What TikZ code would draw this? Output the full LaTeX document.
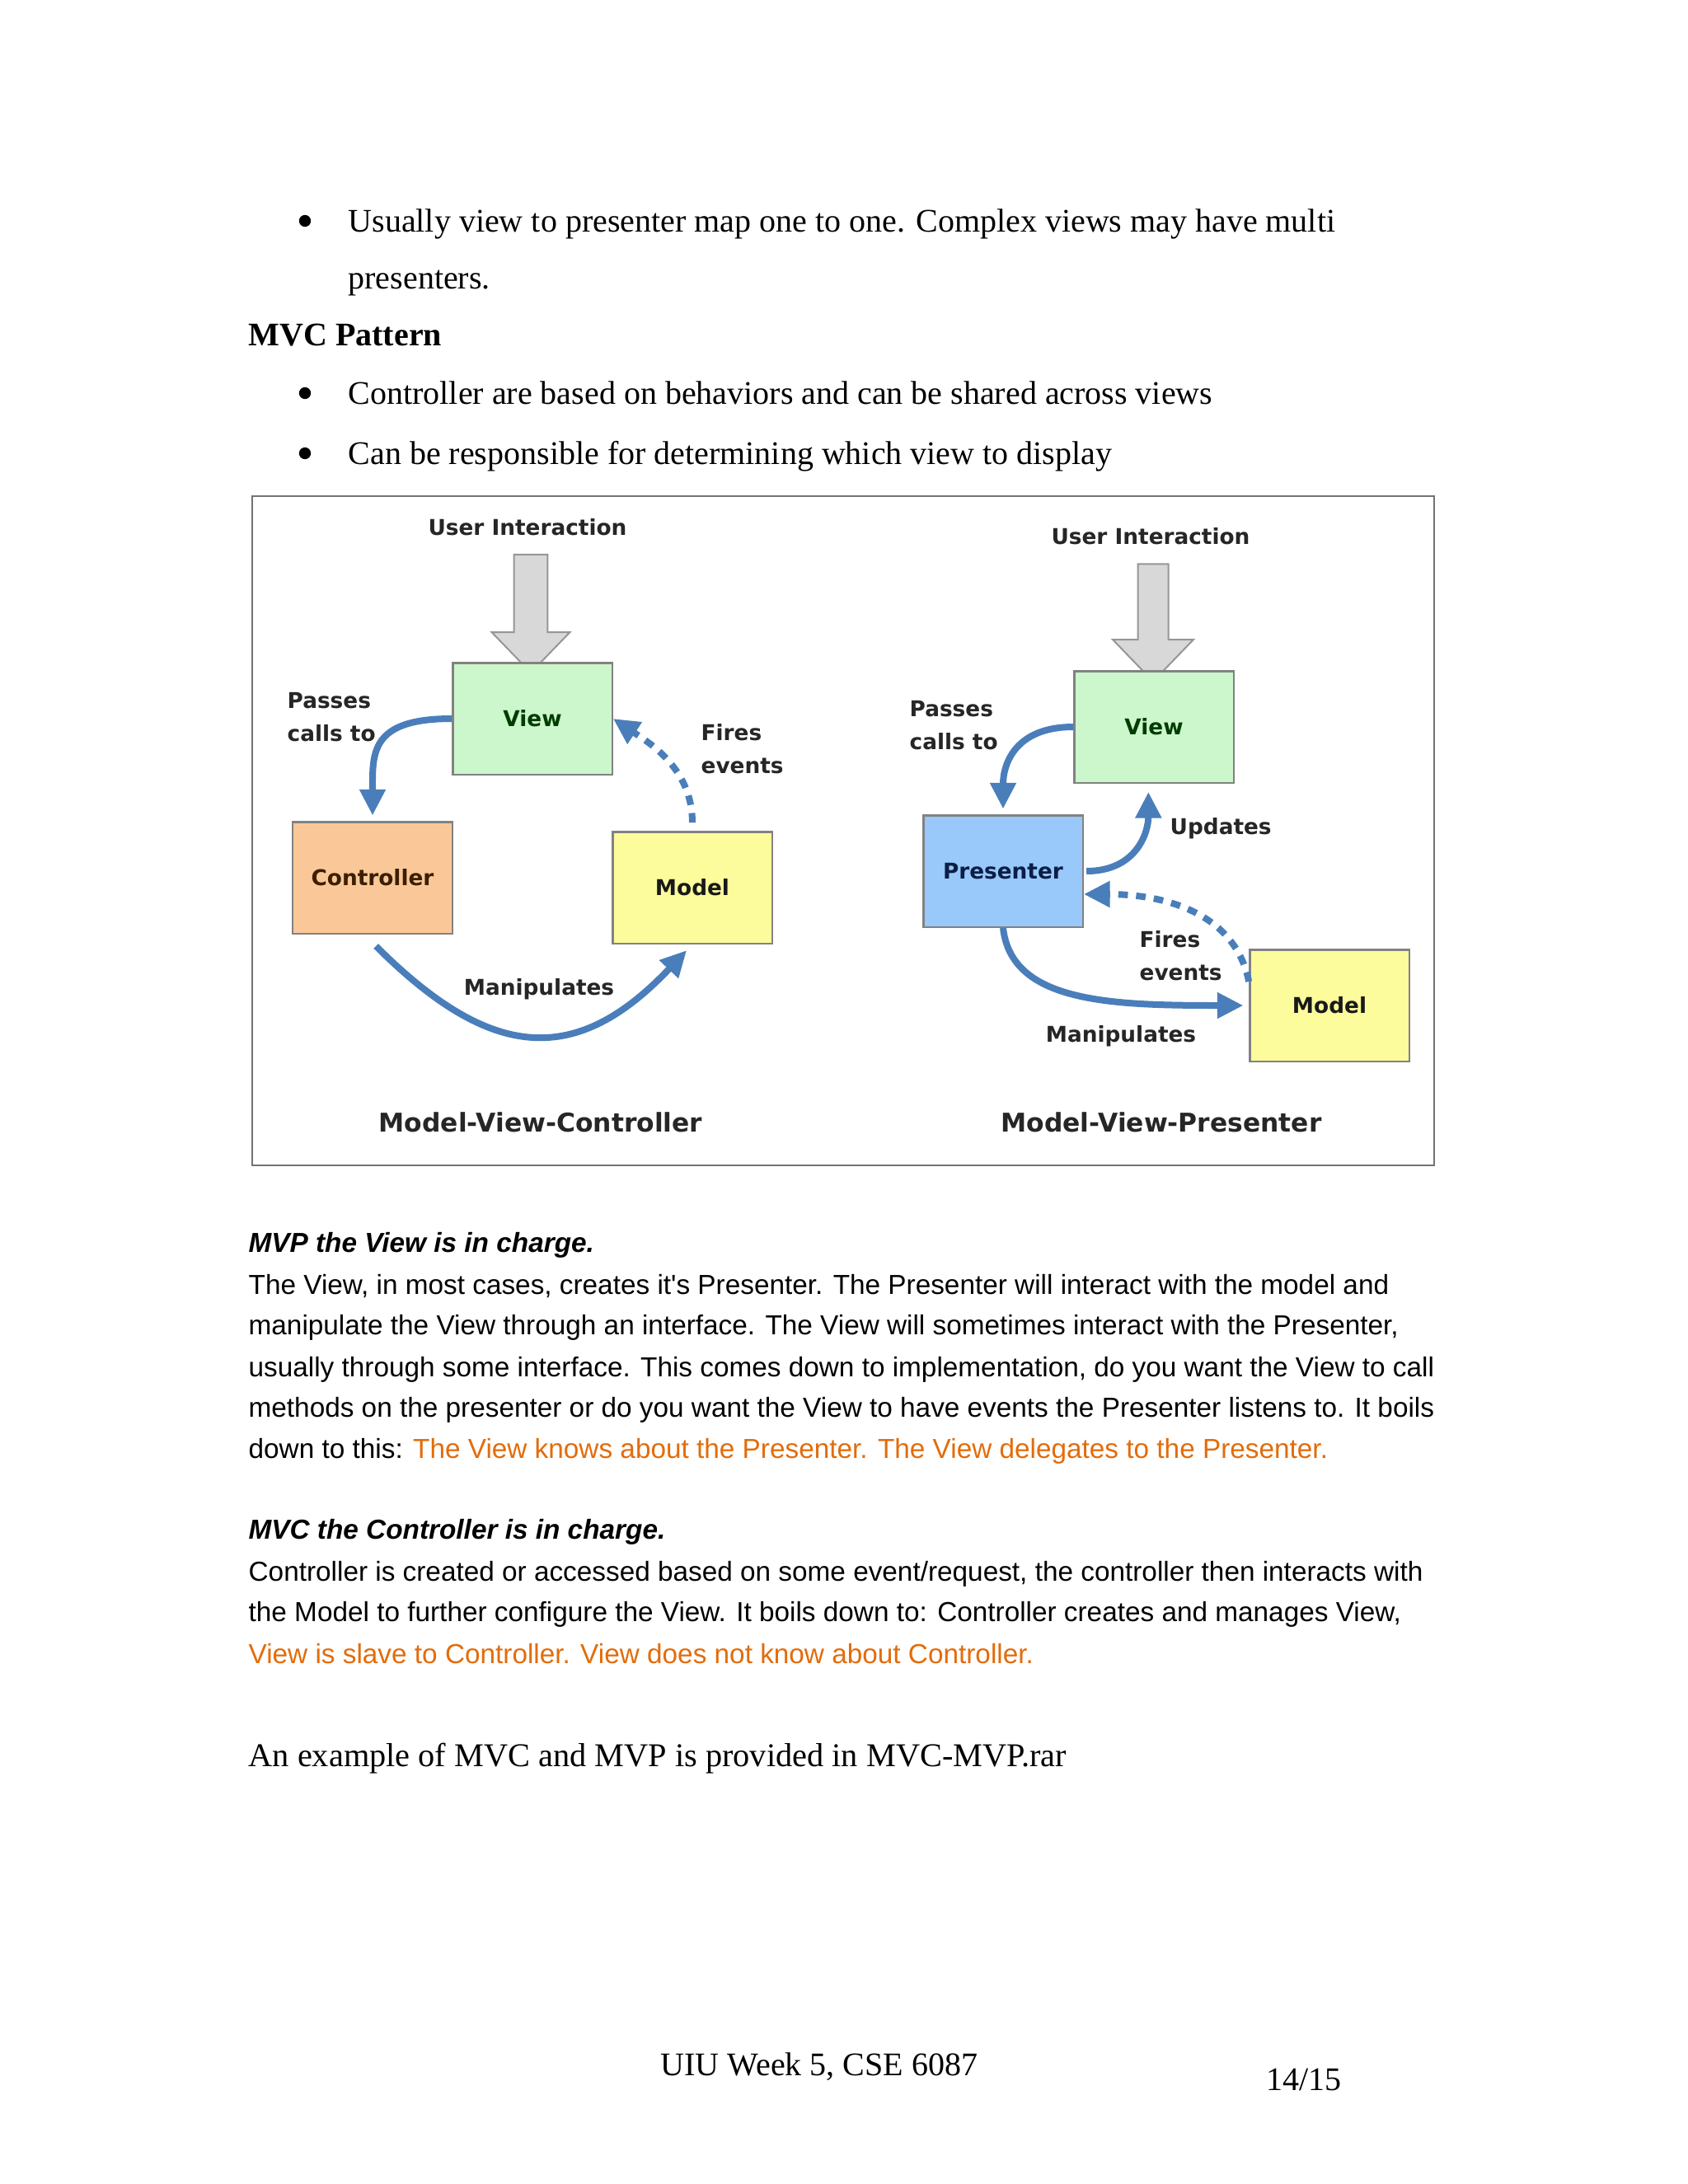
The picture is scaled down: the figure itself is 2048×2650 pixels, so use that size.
\documentclass[tikz,border=0pt]{standalone}
\usepackage{fontspec}
\setmainfont{Liberation Serif}
\newfontfamily\arialf{Liberation Sans}
\newfontfamily\dejaf{DejaVu Sans}
\usetikzlibrary{arrows.meta,shapes.arrows}
\definecolor{barrow}{RGB}{74,126,187}
\definecolor{orangetxt}{RGB}{227,108,10}
\definecolor{viewfill}{RGB}{204,246,204}
\definecolor{ctrlfill}{RGB}{250,200,152}
\definecolor{modelfill}{RGB}{252,252,156}
\definecolor{presfill}{RGB}{153,200,250}
\definecolor{boxline}{RGB}{130,130,130}
\definecolor{grayfill}{RGB}{216,216,216}
\definecolor{grayline}{RGB}{150,150,150}
\tikzset{
  txt/.style={inner sep=0pt, anchor=base west},
  serif/.style={txt, font=\fontsize{12}{14}\selectfont},
  body/.style={txt, font=\arialf\fontsize{10}{12}\selectfont},
  bulletdot/.style={circle, fill=black, inner sep=0pt, minimum size=4.3pt},
  dlab/.style={inner sep=0pt, font=\dejaf\bfseries\fontsize{7.9}{12}\selectfont, align=left, text=black!85},
  dtitle/.style={inner sep=0pt, font=\dejaf\bfseries\fontsize{9.4}{12}\selectfont, text=black!85},
  boxnode/.style={draw=boxline, line width=0.7pt, minimum width=58pt, minimum height=40.6pt, inner sep=0pt, font=\dejaf\bfseries\fontsize{7.9}{10}\selectfont},
  userarrow/.style={shape=single arrow, draw=grayline, fill=grayfill, line width=0.6pt, inner xsep=0pt, minimum width=0pt, rotate=-90, single arrow tip angle=88},
  flow/.style={draw=barrow, line width=2.4pt, -{Triangle[length=9.5pt,width=9pt]}},
  dflow/.style={flow, dash pattern=on 3.5pt off 3pt},
}
\begin{document}
\begin{tikzpicture}[x=0.0105393cm, y=-0.0105393cm]
\useasboundingbox[fill=white] (0,0) rectangle (2048,2650);

% top text
\node[bulletdot] (b1) at (370,268) {};
\node[serif] (l1) at (422,281) {Usually view to presenter map one to one. Complex views may have multi};
\node[serif] (l2) at (422,350) {presenters.};
\node[serif, font=\bfseries\fontsize{12}{14}\selectfont] (h1) at (301,419) {MVC Pattern};
\node[bulletdot] (b2) at (370,477) {};
\node[serif] (l3) at (422,490) {Controller are based on behaviors and can be shared across views};
\node[bulletdot] (b3) at (370,550) {};
\node[serif] (l4) at (422,563) {Can be responsible for determining which view to display};

% diagram frame
\draw[draw=black!55, line width=0.7pt] (306,602) rectangle (1740,1414);

% MVC
\node[dlab] (ui1) at (640,640) {User Interaction};
\node[userarrow, minimum height=43pt, inner ysep=5.8pt, single arrow head extend=8.1pt] (ga1) at (644,734) {};
\node[boxnode, fill=viewfill, text={rgb,255:red,0;green,60;blue,0}] (v1) at (646,872) {View};
\node[boxnode, fill=ctrlfill, text={rgb,255:red,60;green,30;blue,0}] (c1) at (452,1065) {Controller};
\node[boxnode, fill=modelfill, text=black!90] (m1) at (840,1077) {Model};
\node[dlab, anchor=west] (pc1) at (348,870) {Passes\\calls to};
\node[dlab, anchor=west] (fe1) at (850,909) {Fires\\events};
\node[dlab] (mp1) at (654,1200) {Manipulates};
\node[dtitle] (t1) at (656,1362) {Model-View-Controller};
\draw[flow] (v1.west) .. controls +(-100,0) and +(0,-75) .. ([yshift=2pt]c1.north);
\draw[dflow, shorten <=3pt] (m1.north) .. controls +(0,-75) and +(45,30) .. (v1.east);
\draw[flow, shorten <=6pt, shorten >=3pt] ([xshift=-3pt]c1.south) .. controls +(155,155) and +(-140,148) .. (m1.south);

% MVP
\node[dlab] (ui2) at (1396,651) {User Interaction};
\node[userarrow, minimum height=42.7pt, inner ysep=5.25pt, single arrow head extend=9.1pt] (ga2) at (1399,746) {};
\node[boxnode, fill=viewfill, text={rgb,255:red,0;green,60;blue,0}] (v2) at (1400,882) {View};
\node[boxnode, fill=presfill, text={rgb,255:red,10;green,30;blue,70}] (p2) at (1217,1057) {Presenter};
\node[boxnode, fill=modelfill, text=black!90] (m2) at (1613,1220) {Model};
\node[dlab, anchor=west] (pc2) at (1103,880) {Passes\\calls to};
\node[dlab, anchor=west] (up2) at (1419,1005) {Updates};
\node[dlab, anchor=west] (fe2) at (1382,1160) {Fires\\events};
\node[dlab] (mp2) at (1360,1257) {Manipulates};
\node[dtitle] (t2) at (1409,1362) {Model-View-Presenter};
\draw[flow] (v2.west) .. controls +(-70,0) and +(0,-55) .. ([yshift=2pt]p2.north);
\draw[flow, shorten >=3pt] ([xshift=1pt]p2.east) .. controls +(60,0) and +(0,60) .. ([xshift=-2pt]v2.south);
\draw[dflow] ([yshift=8.7pt]m2.west) .. controls +(-16,-81) and +(102,0) .. ([yshift=-8.4pt]p2.east);
\draw[flow, shorten >=2pt] (p2.south) .. controls +(10,90) and +(-170,0) .. (m2.west);

% body text
\node[body, font=\arialf\bfseries\itshape\fontsize{10}{12}\selectfont] (h2) at (301,1519) {MVP the View is in charge.};
\node[body] (p1) at (301,1570) {The View, in most cases, creates it's Presenter. The Presenter will interact with the model and};
\node[body] (p2l) at (301,1619) {manipulate the View through an interface. The View will sometimes interact with the Presenter,};
\node[body] (p3) at (301,1670) {usually through some interface. This comes down to implementation, do you want the View to call};
\node[body] (p4) at (301,1719) {methods on the presenter or do you want the View to have events the Presenter listens to. It boils};
\node[body] (p5) at (301,1769) {down to this: \textcolor{orangetxt}{The View knows about the Presenter. The View delegates to the Presenter.}};

\node[body, font=\arialf\bfseries\itshape\fontsize{10}{12}\selectfont] (h3) at (301,1867) {MVC the Controller is in charge.};
\node[body] (q1) at (301,1918) {Controller is created or accessed based on some event/request, the controller then interacts with};
\node[body] (q2) at (301,1967) {the Model to further configure the View. It boils down to: Controller creates and manages View,};
\node[body, text=orangetxt] (q3) at (301,2018) {View is slave to Controller. View does not know about Controller.};

\node[serif, font=\fontsize{12.1}{14}\selectfont] (ex) at (301,2143) {An example of MVC and MVP is provided in MVC-MVP.rar};

% footer
\node[serif, anchor=base] (ft) at (994,2518) {UIU Week 5, CSE 6087};
\node[serif, anchor=base] (pg) at (1582,2536) {14/15};
\end{tikzpicture}
\end{document}
